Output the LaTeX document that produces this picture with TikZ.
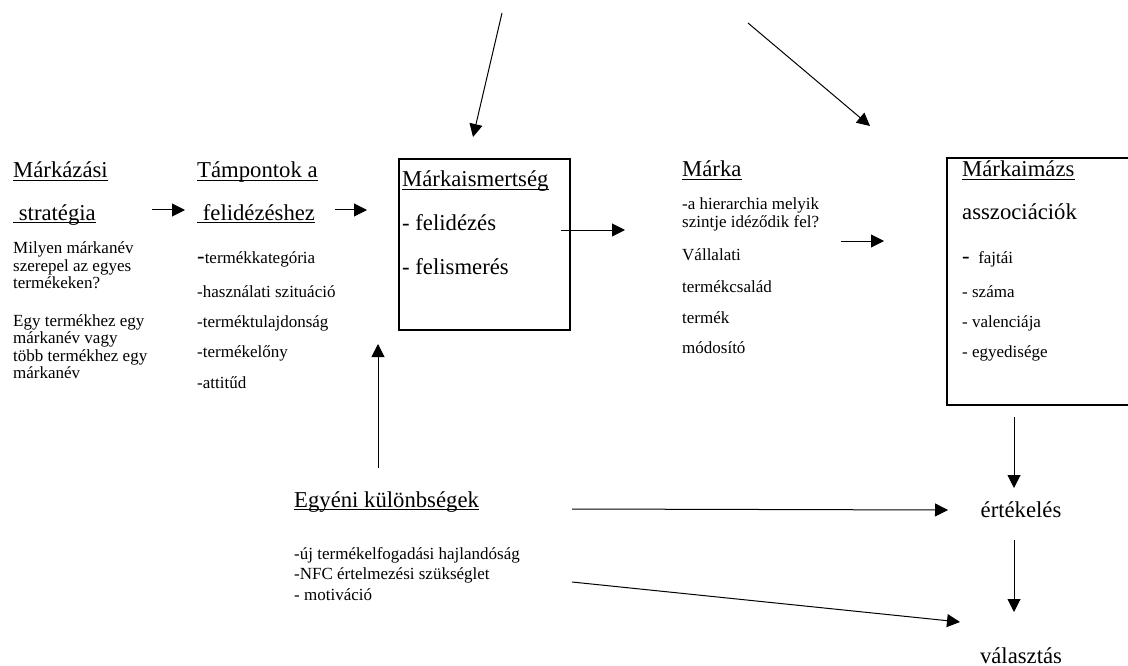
\documentclass[tikz,border=0pt]{standalone}
\usepackage{fontspec}
\setmainfont{Liberation Serif}
\usetikzlibrary{arrows.meta}
\newcommand\bigdash{{\fontsize{22.7}{27}\selectfont -}}
\begin{document}
\begin{tikzpicture}[x=1pt,y=-1pt,
  big/.style={font=\fontsize{22.7}{27}\selectfont, inner sep=0pt, anchor=base west},
  small/.style={font=\fontsize{17}{20}\selectfont, inner sep=0pt, anchor=base west},
  ul/.style={line width=1.1pt},
  arr/.style={-{Triangle[length=13pt,width=13pt]}, line width=1pt},
  frame/.style={draw, line width=1.6pt, inner sep=0pt}]
\useasboundingbox (0,0) rectangle (1128,666);
\newcommand\hdr[4]{\node[big] (#1) at (#2,#3) {#4};
  \draw[ul] ([yshift=-2.6pt]#1.base west) -- ([yshift=-2.6pt]#1.base east);}

% --- branding strategy
\hdr{strat1}{13}{178}{Márkázási}
\hdr{strat2}{13}{220}{\ stratégia}
\node[small] (s1) at (13,253) {Milyen márkanév};
\node[small] (s2) at (13,271) {szerepel az egyes};
\node[small] (s3) at (13,288) {termékeken?};
\node[small] (s4) at (13,326) {Egy termékhez egy};
\node[small] (s5) at (13,343) {márkanév vagy};
\node[small] (s6) at (13,361) {több termékhez egy};
\node[small] (s7) at (13,378) {márkanév};

% --- retrieval cues
\hdr{cue1}{197}{178}{Támpontok a}
\hdr{cue2}{197}{220}{\ felidézéshez}
\node[small] (c1) at (197,263) {\bigdash termékkategória};
\node[small] (c2) at (197,297) {-használati szituáció};
\node[small] (c3) at (197,327) {-terméktulajdonság};
\node[small] (c4) at (197,357) {-termékelőny};
\node[small] (c5) at (197,388) {-attitűd};

% --- brand awareness box
\node[frame, minimum width=171pt, minimum height=171pt, anchor=north west] (aware) at (398,158) {};
\hdr{aw1}{402}{187}{Márkaismertség}
\node[big] (aw2) at (402,230) {- felidézés};
\node[big] (aw3) at (402,274) {- felismerés};

% --- brand
\hdr{br1}{682}{177}{Márka}
\node[small] (b1) at (682,210) {-a hierarchia melyik};
\node[small] (b2) at (682,228) {szintje idéződik fel?};
\node[small] (b3) at (682,260) {Vállalati};
\node[small] (b4) at (682,292) {termékcsalád};
\node[small] (b5) at (682,323) {termék};
\node[small] (b6) at (682,353) {módosító};

% --- brand image box (open on the right edge)
\draw[line width=1.8pt] (1130,158) -- (947,158) -- (947,405) -- (1130,405);
\hdr{im1}{962}{177}{Márkaimázs}
\node[big] (im2) at (962,219) {asszociációk};
\node[small] (i1) at (962,263) {\bigdash\ \ fajtái};
\node[small] (i2) at (962,297) {- száma};
\node[small] (i3) at (962,327) {- valenciája};
\node[small] (i4) at (962,357) {- egyedisége};

% --- individual differences
\hdr{ind1}{294}{507}{Egyéni különbségek}
\node[small] (d1) at (294,559) {-új termékelfogadási hajlandóság};
\node[small] (d2) at (294,579) {-NFC értelmezési szükséglet};
\node[small] (d3) at (294,600) {- motiváció};

% --- evaluation and choice
\node[big, anchor=base] (eval) at (1021,517) {értékelés};
\node[big, anchor=base] (choice) at (1021,663) {választás};

% --- connector end points
\coordinate (a1s) at (152,210);  \coordinate (a1e) at (185,210);
\coordinate (a2s) at (335,210);  \coordinate (a2e) at (367,210);
\coordinate (t1s) at (502,13);   \coordinate (t1e) at (473,137);
\coordinate (t2s) at (748,23);   \coordinate (t2e) at (870,126);
\coordinate (a3s) at (561,230);  \coordinate (a3e) at (625,230);
\coordinate (a4s) at (841,241);  \coordinate (a4e) at (884,241);
\coordinate (u1s) at (378,468);  \coordinate (u1e) at (378,344);
\coordinate (v1s) at (1014,417); \coordinate (v1e) at (1014,488);
\coordinate (h1s) at (572,509);  \coordinate (h1e) at (948,510);
\coordinate (v2s) at (1014,540); \coordinate (v2e) at (1014,612);
\coordinate (h2s) at (572,582);  \coordinate (h2e) at (960,622);

\draw[arr] (a1s) -- (a1e);
\draw[arr] (a2s) -- (a2e);
\draw[arr] (t1s) -- (t1e);
\draw[arr] (t2s) -- (t2e);
\draw[arr] (a3s) -- (a3e);
\draw[arr] (a4s) -- (a4e);
\draw[arr] (u1s) -- (u1e);
\draw[arr] (v1s) -- (v1e);
\draw[arr] (h1s) -- (h1e);
\draw[arr] (v2s) -- (v2e);
\draw[arr] (h2s) -- (h2e);
\end{tikzpicture}
\end{document}
